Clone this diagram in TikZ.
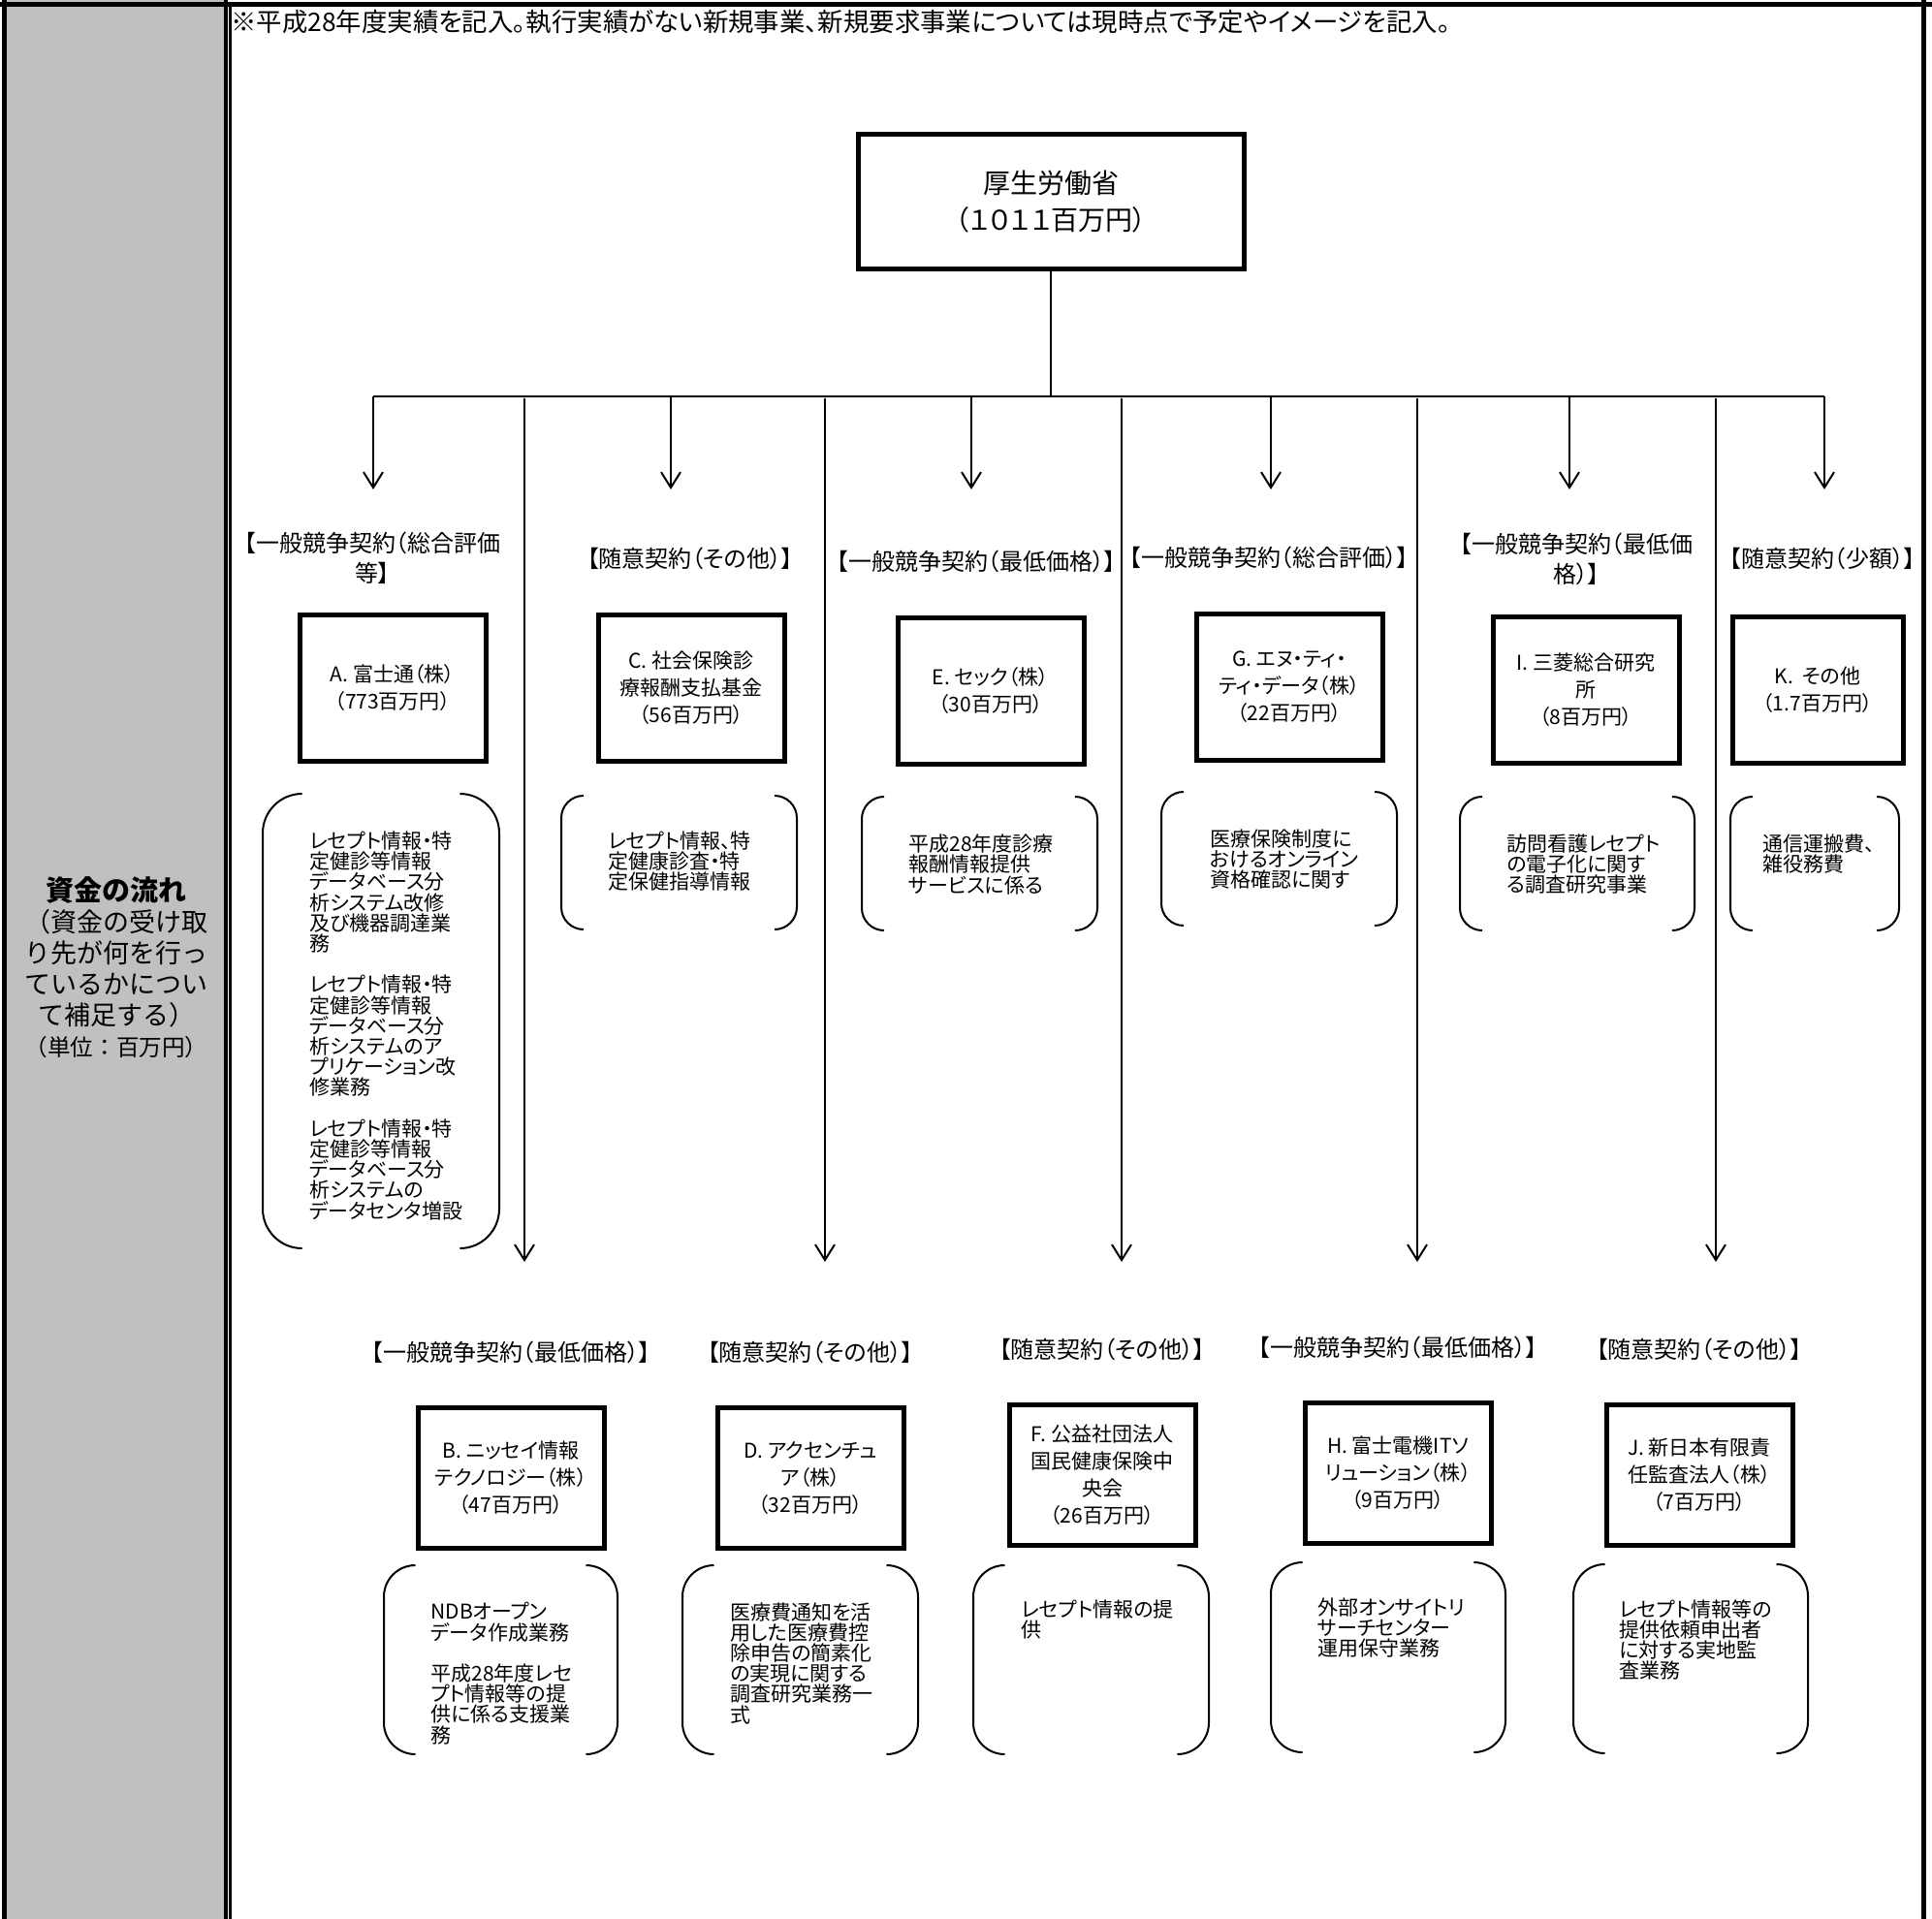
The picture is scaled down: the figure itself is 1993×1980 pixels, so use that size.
\documentclass[tikz,border=0pt]{standalone}
\usepackage{fontspec}
\setmainfont{Noto Sans CJK JP}[RawFeature=+palt]
\newfontfamily\gothicfixed{Noto Sans CJK JP}
\usetikzlibrary{arrows.meta,positioning}
\definecolor{cellgray}{RGB}{192,192,192}

\tikzset{
	link/.style={line width=1pt},
	flow/.style={line width=1pt,-{Straight Barb[length=8pt,width=10pt]}},
	mainbox/.style={draw,line width=2.5pt,minimum width=199pt,minimum height=69pt,align=center,inner sep=0pt,font=\fontsize{14}{19}\selectfont},
	firm/.style={draw,line width=2.5pt,minimum width=96pt,minimum height=75.5pt,align=center,inner sep=0pt,font=\fontsize{10.5}{14}\selectfont},
	contract/.style={align=center,inner sep=0pt,font=\fontsize{12}{15.5}\selectfont},
	duty/.style={align=left,anchor=north west,inner sep=0pt,font=\fontsize{10.5}{10.6}\selectfont},
	legend/.style={align=center,inner sep=0pt,font=\gothicfixed\fontsize{13.5}{16}\selectfont},
}

\begin{document}
\begin{tikzpicture}[x=0.5pt,y=-0.5pt]
	\useasboundingbox (0,0) rectangle (1993,1980);
	\fill[cellgray] (7,0) rectangle (231,1980);
	\draw[line width=2.5pt] (0,4.5) -- (1993,4.5);
	\draw[line width=2.5pt] (4.5,0) -- (4.5,1980);
	\draw[line width=2pt] (233,0) -- (233,1980);
	\draw[line width=1.5pt] (237.5,7) -- (237.5,1980);
	\draw[line width=2.5pt] (1984.5,0) -- (1984.5,1980);

	\node[anchor=west,inner sep=0pt,font=\fontsize{13.2}{15}\selectfont] (note) at (238,23) {※平成28年度実績を記入。執行実績がない新規事業、新規要求事業については現時点で予定やイメージを記入。};
	\node[legend] (legend) at (120,998) {{\fontsize{14.5}{16}\selectfont\bfseries 資金の流れ}\\（資金の受け取\\り先が何を行っ\\ているかについ\\て補足する）\\{\fontsize{11.8}{16}\selectfont（単位：百万円）}};

	\node[mainbox] (mhlw) at (1084,208) {厚生労働省\\（１０１１百万円）};
	\coordinate (hub) at (1084,409);
	\coordinate (busL) at (385,409);
	\coordinate (busR) at (1882,409);
	\draw[link] (mhlw) -- (hub);
	\draw[link] (busL) -- (busR);
	\foreach \n/\x in {A/385,C/692,E/1002,G/1311,I/1619,K/1882} {
		\coordinate (top\n) at (\x,409);
		\coordinate (tip\n) at (\x,505);
		\draw[flow] (top\n) -- (tip\n);
	}
	\foreach \n/\x in {B/541,D/851,F/1157,H/1462,J/1770} {
		\coordinate (top\n) at (\x,411);
		\coordinate (tip\n) at (\x,1302);
		\draw[flow] (top\n) -- (tip\n);
	}

	\node[contract] (lblA) at (384,576) {【一般競争契約（総合評価\\等】};
	\node[contract] (lblC) at (712,576) {【随意契約（その他）】};
	\node[contract] (lblE) at (1007,579) {【一般競争契約（最低価格）】};
	\node[contract] (lblG) at (1309,575) {【一般競争契約（総合評価）】};
	\node[contract] (lblI) at (1626,577) {【一般競争契約（最低価\\格）】};
	\node[contract] (lblK) at (1880,576) {【随意契約（少額）】};

	\node[firm] (firmA) at (405,710) {A. 富士通（株）\\（773百万円）};
	\node[firm] (firmC) at (713,710) {C. 社会保険診\\療報酬支払基金\\（56百万円）};
	\node[firm] (firmE) at (1022,713) {E. セック（株）\\（30百万円）};
	\node[firm] (firmG) at (1330,709) {G. エヌ・ティ・\\ティ・データ（株）\\（22百万円）};
	\node[firm] (firmI) at (1636,712) {I. 三菱総合研究\\所\\（8百万円）};
	\node[firm,minimum width=88pt] (firmK) at (1875,712) {K.\ \ その他\\（1.7百万円）};

	\node[firm,minimum height=72.5pt] (firmB) at (527,1525) {B. ニッセイ情報\\テクノロジー（株）\\（47百万円）};
	\node[firm,minimum height=72.5pt] (firmD) at (836,1525) {D. アクセンチュ\\ア（株）\\（32百万円）};
	\node[firm,minimum height=72.5pt] (firmF) at (1137,1522) {F. 公益社団法人\\国民健康保険中\\央会\\（26百万円）};
	\node[firm,minimum height=72.5pt] (firmH) at (1442,1520) {H. 富士電機ITソ\\リューション（株）\\（9百万円）};
	\node[firm,minimum height=72.5pt] (firmJ) at (1753,1522) {J. 新日本有限責\\任監査法人（株）\\（7百万円）};

	\node[contract,above=21.5pt of firmB] (lblB) {【一般競争契約（最低価格）】};
	\node[contract,above=21.5pt of firmD] (lblD) {【随意契約（その他）】};
	\node[contract,above=21.5pt of firmF] (lblF) {【随意契約（その他）】};
	\node[contract,above=21.5pt of firmH] (lblH) {【一般競争契約（最低価格）】};
	\node[contract,above=21.5pt of firmJ] (lblJ) {【随意契約（その他）】};

	\node[duty] (dutyA) at (319,857.5) {レセプト情報・特\\定健診等情報\\データベース分\\析システム改修\\及び機器調達業\\務\\[10.6pt]レセプト情報・特\\定健診等情報\\データベース分\\析システムのア\\プリケーション改\\修業務\\[10.6pt]レセプト情報・特\\定健診等情報\\データベース分\\析システムの\\データセンタ増設};
	\node[duty] (dutyC) at (627,857.5) {レセプト情報、特\\定健康診査・特\\定保健指導情報};
	\node[duty] (dutyE) at (937,860.5) {平成28年度診療\\報酬情報提供\\サービスに係る};
	\node[duty] (dutyG) at (1248,855.5) {医療保険制度に\\おけるオンライン\\資格確認に関す};
	\node[duty] (dutyI) at (1554,860.5) {訪問看護レセプト\\の電子化に関す\\る調査研究事業};
	\node[duty] (dutyK) at (1818,860.5) {通信運搬費、\\雑役務費};
	\node[duty] (dutyB) at (444,1653) {NDBオープン\\データ作成業務\\[10.6pt]平成28年度レセ\\プト情報等の提\\供に係る支援業\\務};
	\node[duty] (dutyD) at (753,1653) {医療費通知を活\\用した医療費控\\除申告の簡素化\\の実現に関する\\調査研究業務一\\式};
	\node[duty] (dutyF) at (1053,1650) {レセプト情報の提\\供};
	\node[duty] (dutyH) at (1359,1648) {外部オンサイトリ\\サーチセンター\\運用保守業務};
	\node[duty] (dutyJ) at (1670,1650) {レセプト情報等の\\提供依頼申出者\\に対する実地監\\査業務};

	\foreach \xa/\ya/\xb/\yb in {271/819/515/1288,579/821/822/959,889/822/1132/960,1198/817/1441/955,1506/822/1748/960,1785/822/1959/960,396/1615/637/1810,704/1615/947/1810,1004/1615/1247/1810,1311/1612/1553/1808,1623/1614/1865/1809} {
		\pgfmathsetmacro\r{min(\xb-\xa,\yb-\ya)/6}
		\draw[link] (\xa+\r,\ya) arc[start angle=270,end angle=180,radius=\r] -- (\xa,\yb-\r) arc[start angle=180,end angle=90,radius=\r];
		\draw[link] (\xb-\r,\ya) arc[start angle=270,end angle=360,radius=\r] -- (\xb,\yb-\r) arc[start angle=0,end angle=90,radius=\r];
	}
\end{tikzpicture}
\end{document}
